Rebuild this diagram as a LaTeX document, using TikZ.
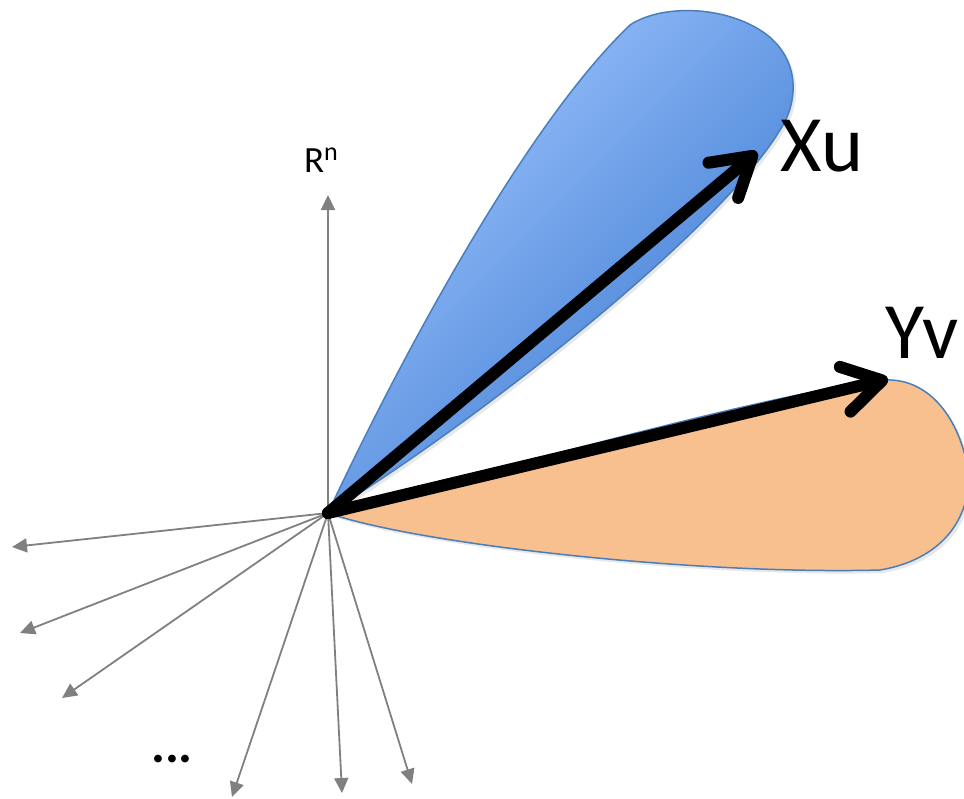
\documentclass[tikz,border=0pt]{standalone}
\usepackage{fontspec}
\setmainfont{Carlito}
\usetikzlibrary{arrows.meta,shadows}
\definecolor{bluelight}{RGB}{160,198,255}
\definecolor{bluedark}{RGB}{55,118,206}
\definecolor{blueline}{RGB}{74,126,187}
\definecolor{orangefill}{RGB}{248,192,143}
\definecolor{axisgray}{RGB}{128,128,128}
\tikzset{
  blob/.style={draw=blueline, line width=1.5pt,
    drop shadow={opacity=0.18, shadow xshift=3pt, shadow yshift=-3pt}},
  axisarrow/.style={draw=axisgray, line width=1.8pt, -{Triangle[length=15pt,width=14pt]}},
  vec/.style={draw=black, line width=12pt, line cap=round,
    -{Straight Barb[length=38pt,width=46pt,line cap=round,line join=round]}},
  biglabel/.style={font=\fontsize{80}{90}\selectfont, inner sep=0pt},
  smalllabel/.style={font=\fontsize{37}{44}\selectfont, inner sep=0pt},
  dotslabel/.style={font=\fontsize{52}{60}\selectfont\bfseries, inner sep=0pt, anchor=base}
}
\begin{document}
\begin{tikzpicture}[x=1pt,y=-1pt]
\useasboundingbox (0,0) rectangle (964,798);
\coordinate (O) at (328,513);
% orange blob
\path[blob, fill=orangefill] (O) .. controls (500,470) and (760,395) .. (885,380)
  .. controls (930,378) and (960,420) .. (968,470)
  .. controls (972,520) and (940,560) .. (880,570)
  .. controls (700,575) and (420,545) .. (O) -- cycle;
% blue blob
\path[blob, left color=bluelight, right color=bluedark, shading angle=45]
  (O) .. controls (390,380) and (520,130) .. (630,25)
  .. controls (660,5) and (720,5) .. (760,30)
  .. controls (800,55) and (800,100) .. (780,130)
  .. controls (720,230) and (480,420) .. (O) -- cycle;
% gray axes
\coordinate (up) at (328,195);
\coordinate (a1) at (12,547);
\coordinate (a2) at (20,633);
\coordinate (a3) at (62,698);
\coordinate (a4) at (232,797);
\coordinate (a5) at (342,793);
\coordinate (a6) at (412,784);
\foreach \t in {up,a1,a2,a3,a4,a5,a6} \draw[axisarrow] (O) -- (\t);
% vectors
\coordinate (xe) at (757,152);
\coordinate (ye) at (888,379);
\draw[vec] (O) -- (xe);
\draw[vec] (O) -- (ye);
% labels
\node[biglabel] (xu) at (822,146) {Xu};
\node[biglabel] (yv) at (922,333) {Yv};
\node[smalllabel] (rn) at (321,160) {R\raisebox{12pt}{\fontsize{26}{26}\selectfont n}};
\node[dotslabel] (dots) at (172,762) {...};
\end{tikzpicture}
\end{document}
